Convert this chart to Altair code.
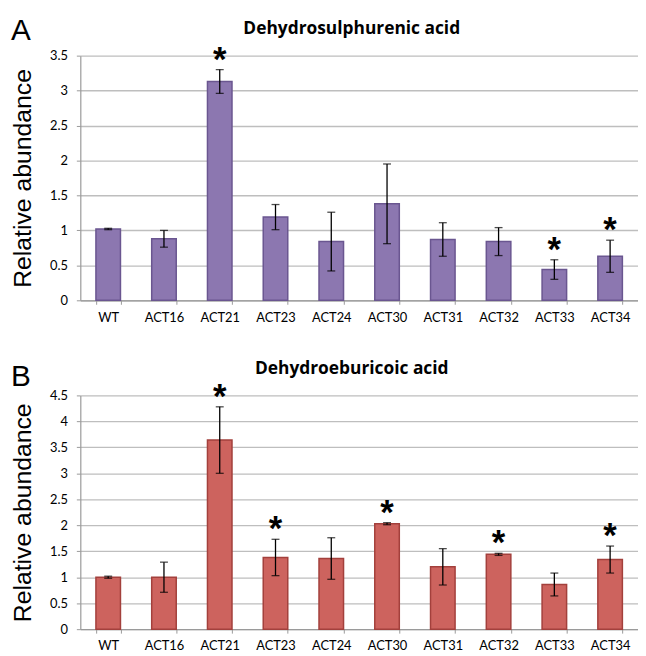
import altair as alt
import pandas as pd

categories = ["WT", "ACT16", "ACT21", "ACT23", "ACT24", "ACT30", "ACT31", "ACT32", "ACT33", "ACT34"]

a_title = "Dehydrosulphurenic acid"
a_letter = "A"
a_values = [1.02, 0.88, 3.13, 1.19, 0.84, 1.38, 0.87, 0.84, 0.44, 0.63]
a_errors = [0.01, 0.12, 0.17, 0.18, 0.42, 0.57, 0.24, 0.20, 0.14, 0.23]
a_signif = [0, 0, 1, 0, 0, 0, 0, 0, 1, 1]
a_ticks = [0, 0.5, 1, 1.5, 2, 2.5, 3, 3.5]

b_title = "Dehydroeburicoic acid"
b_letter = "B"
b_values = [1.00, 1.00, 3.64, 1.38, 1.36, 2.03, 1.20, 1.44, 0.86, 1.34]
b_errors = [0.02, 0.29, 0.64, 0.35, 0.40, 0.02, 0.35, 0.02, 0.22, 0.26]
b_signif = [0, 0, 1, 1, 0, 1, 0, 1, 0, 1]
b_ticks = [0, 0.5, 1, 1.5, 2, 2.5, 3, 3.5, 4, 4.5]

LABEL_FONT = "Lato"
W = 563


def panel(values, errors, signif, ticks, title, letter, fill, stroke, height):
    df = pd.DataFrame({
        "category": categories,
        "value": values,
        "lo": [v - e for v, e in zip(values, errors)],
        "hi": [v + e for v, e in zip(values, errors)],
        "star": signif,
    })
    ymax = ticks[-1]
    xaxis = alt.Axis(
        title=None, labelAngle=0, tickBand="extent", grid=False,
        domainColor="#9A9A9A", tickColor="#9A9A9A", tickSize=4,
        labelFont=LABEL_FONT, labelFontSize=13, labelColor="#000000",
        labelPadding=7, domainWidth=1.2,
    )
    xscale = alt.Scale(paddingInner=0.56, paddingOuter=0.28)
    yaxis = alt.Axis(
        values=ticks, format="~g", title="Relative abundance",
        titleFont="Liberation Sans", titleFontSize=25, titleFontWeight="normal",
        titleColor="#000000", titlePadding=14,
        labelFont=LABEL_FONT, labelFontSize=13, labelColor="#000000", labelPadding=9,
        gridColor="#BEBEBE", gridWidth=1.4, domainColor="#9A9A9A", domainWidth=1.2,
        tickColor="#9A9A9A", tickSize=4,
    )
    yscale = alt.Scale(domain=[0, ymax], nice=False)

    def X():
        return alt.X("category:N", sort=categories, scale=xscale, axis=xaxis)

    def Y(field):
        return alt.Y(field, scale=yscale, axis=yaxis)

    base = alt.Chart(df)
    bars = base.mark_bar(fill=fill, stroke=stroke, strokeWidth=1.5).encode(x=X(), y=Y("value:Q"))
    rule = base.mark_rule(color="#000000", strokeWidth=1.3).encode(
        x=X(), y=Y("lo:Q"), y2="hi:Q")
    cap_hi = base.mark_tick(color="#000000", thickness=1.3, size=8).encode(x=X(), y=Y("hi:Q"))
    cap_lo = base.mark_tick(color="#000000", thickness=1.3, size=8).encode(x=X(), y=Y("lo:Q"))
    stars = base.transform_filter("datum.star == 1").mark_text(
        text="*", font="Liberation Sans", fontSize=35, fontWeight="bold",
        color="#000000", baseline="alphabetic", dy=1,
    ).encode(x=X(), y=Y("hi:Q"))
    title_mark = alt.Chart(pd.DataFrame({"t": [title]})).mark_text(
        font="Open Sans", fontSize=17.5, fontWeight="bold", color="#000000",
        baseline="alphabetic", align="center",
    ).encode(text="t:N", x=alt.value(274), y=alt.value(-22))
    letter_mark = alt.Chart(pd.DataFrame({"t": [letter]})).mark_text(
        font="Liberation Sans", fontSize=30, color="#000000",
        baseline="alphabetic", align="center",
    ).encode(text="t:N", x=alt.value(-60), y=alt.value(-16 if letter == "A" else -9))
    return alt.layer(bars, rule, cap_hi, cap_lo, stars, title_mark, letter_mark).properties(
        width=W, height=height)


pa = panel(a_values, a_errors, a_signif, a_ticks, a_title, a_letter, "#8C77B0", "#6A5690", 247)
pb = panel(b_values, b_errors, b_signif, b_ticks, b_title, b_letter, "#CD635E", "#A3403C", 236)

chart = alt.vconcat(pa, pb, spacing=96, bounds="flush").resolve_scale(y="independent").properties(
    padding={"left": 2, "top": 5, "right": 0, "bottom": 0}
).configure_view(stroke=None)

chart.save("out.html", embed_options={"renderer": "svg", "actions": False})
